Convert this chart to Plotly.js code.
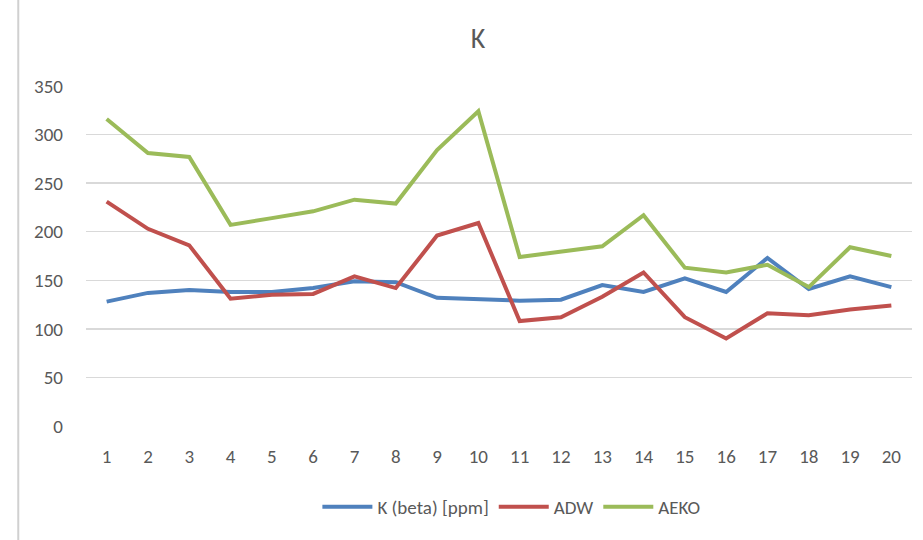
<!DOCTYPE html>
<html>
<head>
<meta charset="utf-8">
<script src="https://cdn.plot.ly/plotly-3.0.1.min.js"></script>
<style>
  html, body { margin: 0; padding: 0; background: #fff; }
  #chart { width: 923px; height: 540px; }
</style>
</head>
<body>
<div id="chart"></div>
<script>
// Sample numbers along the x axis
const samples = [1, 2, 3, 4, 5, 6, 7, 8, 9, 10, 11, 12, 13, 14, 15, 16, 17, 18, 19, 20];

// Potassium readings per method
const kBeta = [128, 137, 140, 138, 138, 142, 149, 148, 132, 130, 129, 130, 145, 138, 152, 138, 173, 141, 154, 143];
const adw   = [231, 203, 186, 131, 135, 136, 154, 142, 196, 209, 108, 112, 133, 158, 112, 90, 116, 114, 120, 124];
const aeko  = [316, 281, 277, 207, 214, 221, 233, 229, 284, 324, 174, 180, 185, 217, 163, 158, 166, 143, 184, 175];

const seriesNames = ['K (beta) [ppm]', 'ADW', 'AEKO'];
const seriesColors = ['#4F81BD', '#C0504D', '#9BBB59'];
const yTicks = [0, 50, 100, 150, 200, 250, 300, 350];

const font = 'Carlito, "Liberation Sans Narrow", "Noto Sans", sans-serif';

const traces = [kBeta, adw, aeko].map((vals, i) => ({
  type: 'scatter',
  mode: 'lines',
  x: samples,
  y: vals,
  name: seriesNames[i],
  line: { color: seriesColors[i], width: 4, shape: 'linear' },
  hoverinfo: 'x+y+name'
}));

const layout = {
  width: 923,
  height: 540,
  margin: { l: 86, r: 11, t: 86, b: 114 },
  paper_bgcolor: '#ffffff',
  plot_bgcolor: '#ffffff',
  title: {
    text: 'K',
    x: 0.518,
    xanchor: 'center',
    y: 0.93,
    yanchor: 'middle',
    font: { family: font, size: 28, color: '#595959' }
  },
  xaxis: {
    range: [0.5, 20.5],
    tickvals: samples,
    ticktext: samples.map(String),
    showgrid: false,
    zeroline: false,
    showline: false,
    ticks: '',
    ticklabelstandoff: 17,
    tickfont: { family: font, size: 19, color: '#595959' },
    fixedrange: true
  },
  yaxis: {
    range: [0, 350],
    tickvals: yTicks,
    ticktext: yTicks.map(String),
    showgrid: true,
    gridcolor: '#D9D9D9',
    gridwidth: 1.5,
    zeroline: false,
    showline: false,
    ticks: '',
    ticklabelstandoff: 22,
    tickfont: { family: font, size: 19, color: '#595959' },
    fixedrange: true
  },
  showlegend: true,
  legend: {
    orientation: 'h',
    x: 0.515,
    xanchor: 'center',
    y: -0.238,
    yanchor: 'middle',
    font: { family: font, size: 19, color: '#595959' },
    itemwidth: 50,
    traceorder: 'normal'
  },
  shapes: [
    {
      type: 'line', xref: 'paper', yref: 'paper',
      x0: -0.082, x1: -0.082, y0: -0.5, y1: 1.5,
      line: { color: '#D0D0D0', width: 2 }
    }
  ]
};

Plotly.newPlot('chart', traces, layout, { displayModeBar: false, staticPlot: true });
</script>
</body>
</html>
